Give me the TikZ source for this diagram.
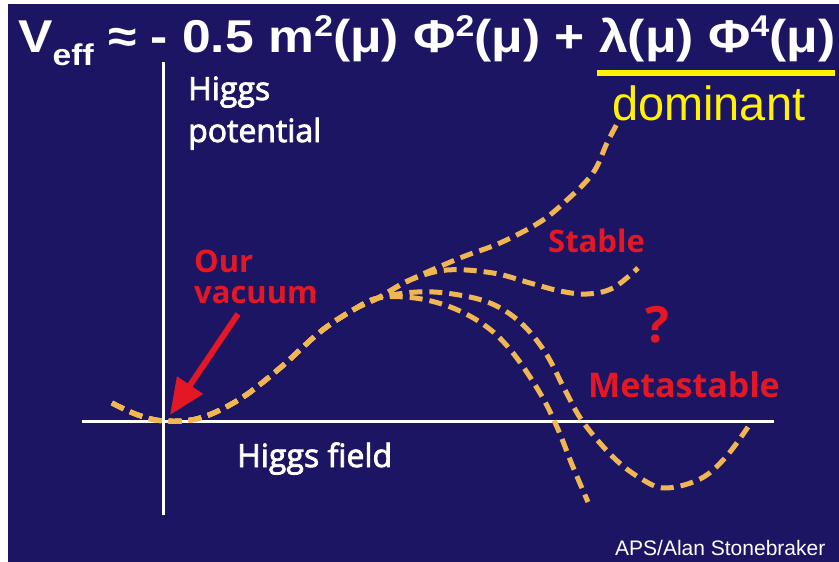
\documentclass[tikz,border=0pt]{standalone}
\usepackage{fontspec}
\usepackage{graphicx}
\usetikzlibrary{arrows.meta}
\setmainfont{Open Sans}
\newfontfamily\titlefont{Liberation Sans}
\newfontfamily\axisfont{Open Sans}[FakeBold=2.5]
\definecolor{navy}{RGB}{27,21,99}
\definecolor{curvecol}{RGB}{240,182,82}
\definecolor{labelred}{RGB}{228,24,36}
\definecolor{domyellow}{RGB}{255,243,0}
\newcommand{\sups}[1]{\raisebox{15pt}{\fontsize{30}{30}\selectfont #1}}

\begin{document}
\begin{tikzpicture}[x=1pt, y=-1pt,
    axisline/.style={draw=white, line width=3pt},
    vcurve/.style={draw=curvecol, line width=5pt, dash pattern=on 13pt off 7pt},
    redlabel/.style={text=labelred, font=\fontsize{31}{31}\selectfont\bfseries, inner sep=0pt, anchor=base west, align=left},
    whitelabel/.style={text=white, font=\axisfont\fontsize{32}{42}\selectfont, inner sep=0pt, anchor=base west, align=left},
    pointer/.style={draw=labelred, line width=6pt, -{Triangle[length=36pt, width=30pt]}}]

  \useasboundingbox (0,0) rectangle (839,562);
  \fill[navy] (8,4) rectangle (839,562);

  \node[inner sep=0pt, anchor=base west, text=white] (formula) at (18,52)
    {\resizebox{817pt}{\height}{\titlefont\bfseries\fontsize{46}{46}\selectfont
     V\raisebox{-13pt}{\fontsize{30}{30}\selectfont eff} ≈ - 0.5 m\sups{2}(μ) Φ\sups{2}(μ) + λ(μ) Φ\sups{4}(μ)}};
  \coordinate (ulstart) at (597,73);
  \coordinate (ulend) at (835,73);
  \draw[draw=domyellow, line width=6pt] (ulstart) -- (ulend);
  \node[inner sep=0pt, anchor=base west, text=domyellow] (dominant) at (612,120)
    {\resizebox{193pt}{\height}{\titlefont\fontsize{48}{48}\selectfont dominant}};

  \coordinate (ytop) at (163,62);
  \coordinate (ybot) at (163,515);
  \coordinate (xleft) at (82,421);
  \coordinate (xright) at (774,421);
  \draw[axisline] (ytop) -- (ybot);
  \draw[axisline] (xleft) -- (xright);

  \node[whitelabel] (vaxis) at (188,142) {Higgs\\potential};
  \node[whitelabel] (faxis) at (237,467) {Higgs field};

  \draw[vcurve] plot[smooth, tension=0.6] coordinates {(112,403) (138,415) (165,421) (200,418) (240,399) (280,368) (320,332) (353,310) (378,298)
    (410,280) (460,258) (500,243) (540,222) (567,200) (593,173) (607,143) (618,122)};
  \draw[vcurve] plot[smooth, tension=0.6] coordinates {(112,403) (138,415) (165,421) (200,418) (240,399) (280,368) (320,332) (353,310) (378,298)
    (410,280) (447,270) (493,273) (530,283) (560,291) (587,294) (613,288) (638,268)};
  \draw[vcurve] plot[smooth, tension=0.6] coordinates {(112,403) (138,415) (165,421) (200,418) (240,399) (280,368) (320,332) (353,310) (378,298)
    (417,292) (453,294) (490,303) (520,322) (545,352) (565,390) (583,422) (613,457) (640,478) (665,488) (700,479) (725,458) (748,427)};
  \draw[vcurve] plot[smooth, tension=0.6] coordinates {(112,403) (138,415) (165,421) (200,418) (240,399) (280,368) (320,332) (353,310) (378,298)
    (415,298) (453,308) (487,327) (513,353) (540,393) (557,427) (573,467) (588,502)};

  \node[redlabel] (vacuum) at (194,303) {Our\\vacuum};
  \node[redlabel] (stable) at (548,252) {Stable};
  \node[redlabel, font=\fontsize{50}{50}\selectfont\bfseries] (question) at (645,342) {?};
  \node[redlabel, font=\fontsize{34}{34}\selectfont\bfseries] (meta) at (588,397) {Metastable};

  \coordinate (tail) at (238,314);
  \coordinate (vac) at (170,415);
  \draw[pointer] (tail) -- (vac);

  \node[inner sep=0pt, anchor=base west, text=white, font=\titlefont\fontsize{21}{21}\selectfont] (credit) at (615,555) {APS/Alan Stonebraker};
\end{tikzpicture}
\end{document}
